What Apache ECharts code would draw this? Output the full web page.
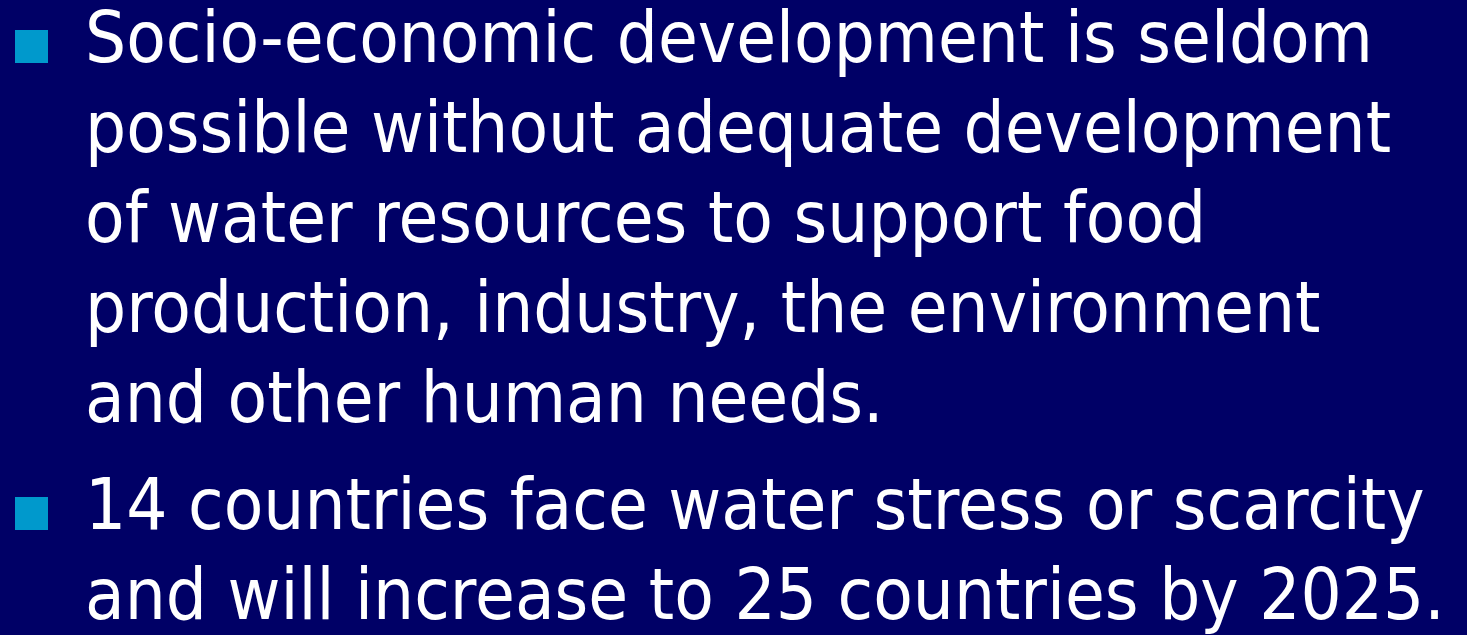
<!DOCTYPE html>
<html>
<head>
<meta charset="utf-8">
<script src="https://cdn.jsdelivr.net/npm/echarts@6/dist/echarts.min.js"></script>
<style>
  html, body { margin: 0; padding: 0; background: #000066; }
  #chart { width: 1467px; height: 635px; }
</style>
</head>
<body>
<div id="chart"></div>
<script>
// Slide content: bullet paragraphs, each a list of wrapped lines
const bullet1Lines = [
  "Socio-economic development is seldom",
  "possible without adequate development",
  "of water resources to support food",
  "production, industry, the environment",
  "and other human needs."
];
const bullet2Lines = [
  "14 countries face water stress or scarcity",
  "and will increase to 25 countries by 2025."
];
const paragraphs = [bullet1Lines, bullet2Lines];

const BG = '#000066';
const BULLET_COLOR = '#0099CC';
const FONT_SIZE = 72;
const TEXT_X = 85;
const FIRST_BASELINE = 65;
const LINE_PITCH = 90;
const PARA_EXTRA = 17;
const SCALE_X = 0.9;

const graphics = [];
let baseline = FIRST_BASELINE;
paragraphs.forEach((lines, pi) => {
  if (pi > 0) baseline += PARA_EXTRA;
  graphics.push({
    type: 'rect',
    shape: { x: 15, y: baseline - 35, width: 33, height: 33 },
    style: { fill: BULLET_COLOR }
  });
  lines.forEach((line, li) => {
    graphics.push({
      type: 'text',
      x: TEXT_X,
      y: baseline - 0.297 * FONT_SIZE,
      scaleX: SCALE_X,
      style: {
        text: line,
        fill: '#ffffff',
        font: FONT_SIZE + 'px "DejaVu Sans", Verdana, sans-serif',
        verticalAlign: 'middle',
        align: 'left'
      }
    });
    baseline += LINE_PITCH;
  });
  baseline -= LINE_PITCH;
  baseline += LINE_PITCH;
});

const chart = echarts.init(document.getElementById('chart'), null, { renderer: 'canvas' });
chart.setOption({
  backgroundColor: BG,
  animation: false,
  graphic: graphics
});
</script>
</body>
</html>
